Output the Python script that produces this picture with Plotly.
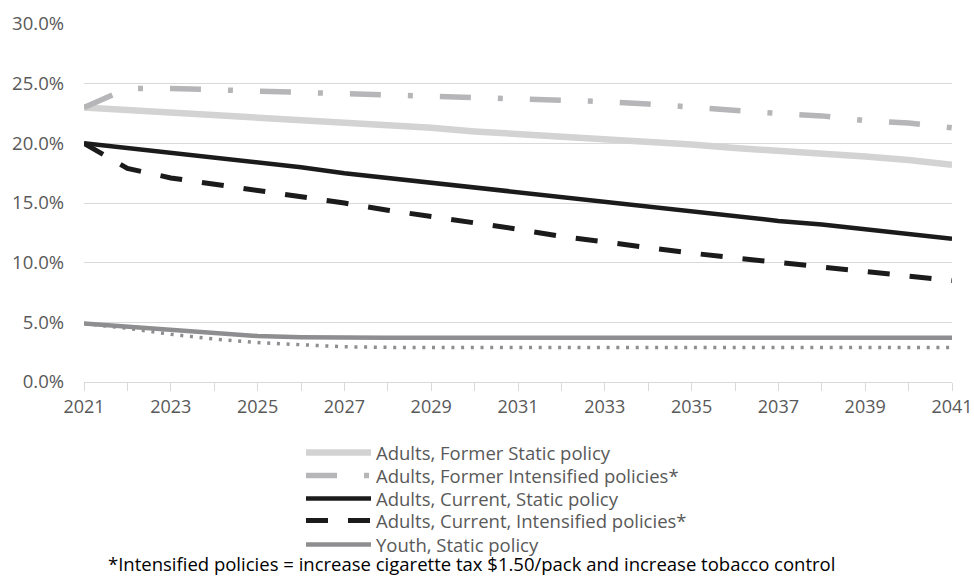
import plotly.graph_objects as go

years = list(range(2021, 2042))

adults_former_static = [23.0, 22.8, 22.6, 22.4, 22.2, 21.9, 21.7, 21.5, 21.3, 21.0, 20.8,
                        20.6, 20.3, 20.1, 19.9, 19.6, 19.4, 19.2, 18.9, 18.6, 18.2]
adults_former_intensified = [23.0, 24.6, 24.6, 24.5, 24.4, 24.3, 24.2, 24.1, 24.0, 23.9, 23.8,
                             23.6, 23.5, 23.3, 23.0, 22.8, 22.5, 22.3, 21.9, 21.7, 21.3]
adults_current_static = [20.0, 19.6, 19.2, 18.8, 18.4, 18.0, 17.5, 17.1, 16.7, 16.3, 15.9,
                         15.5, 15.1, 14.7, 14.3, 13.9, 13.5, 13.2, 12.8, 12.4, 12.0]
adults_current_intensified = [20.0, 17.9, 17.1, 16.6, 16.1, 15.5, 15.0, 14.4, 13.9, 13.3, 12.8,
                              12.2, 11.7, 11.2, 10.8, 10.4, 10.0, 9.6, 9.2, 8.9, 8.5]
youth_static = [4.9, 4.65, 4.4, 4.1, 3.85, 3.75, 3.7, 3.7, 3.7, 3.7, 3.7,
                3.7, 3.7, 3.7, 3.7, 3.7, 3.7, 3.7, 3.7, 3.7, 3.7]
youth_intensified = [4.9, 4.5, 4.0, 3.6, 3.3, 3.1, 2.95, 2.9, 2.9, 2.9, 2.9,
                     2.9, 2.9, 2.9, 2.9, 2.9, 2.9, 2.9, 2.9, 2.9, 2.9]

series_names = ["Adults, Former Static policy", "Adults, Former Intensified policies*",
                "Adults, Current, Static policy", "Adults, Current, Intensified policies*",
                "Youth, Static policy", "Youth, Intensified policies*"]

x_tick_vals = years
x_tick_text = [str(y) if (y - 2021) % 2 == 0 else "" for y in years]
y_tick_vals = [0, 5, 10, 15, 20, 25, 30]
y_tick_text = ["0.0%", "5.0%", "10.0%", "15.0%", "20.0%", "25.0%", "30.0%"]

footnote = "*Intensified policies = increase cigarette tax $1.50/pack and increase tobacco control"

FONT = "Open Sans"
GRAY_TXT = "#595959"

fig = go.Figure()
styles = [
    (adults_former_static, dict(color="#d3d3d3", width=6.5, dash="solid"), "legend"),
    (adults_former_intensified, dict(color="#b6b6b9", width=5.5, dash="31px,27px,5px,27px"), "legend2"),
    (adults_current_static, dict(color="#1b1b1b", width=4.5, dash="solid"), "legend3"),
    (adults_current_intensified, dict(color="#1b1b1b", width=5, dash="22px,20px"), "legend4"),
    (youth_static, dict(color="#8e8e90", width=4.5, dash="solid"), "legend5"),
    (youth_intensified, dict(color="#8e8e90", width=3.5, dash="3px,6.7px"), None),
]
for (vals, line, leg), name in zip(styles, series_names):
    kw = dict(legend=leg, showlegend=True) if leg else dict(showlegend=False)
    fig.add_trace(go.Scatter(x=years, y=vals, mode="lines", name=name, line=line, **kw))

legend_y_px = [453, 476, 499, 521, 545]
plot_top, plot_bottom = 24, 382
legend_common = dict(orientation="v", x=0.25, xanchor="left", yanchor="middle",
                     font=dict(size=18.5, color=GRAY_TXT, family=FONT),
                     bgcolor="rgba(0,0,0,0)", itemwidth=65)
legend_keys = ["legend", "legend2", "legend3", "legend4", "legend5"]
legend_layout = {}
for key, ypx in zip(legend_keys, legend_y_px):
    legend_layout[key] = dict(legend_common, y=(plot_bottom - ypx) / (plot_bottom - plot_top))

fig.update_layout(
    width=974, height=576,
    margin=dict(l=84, r=22, t=24, b=194),
    paper_bgcolor="white", plot_bgcolor="white",
    font=dict(family=FONT, color=GRAY_TXT, size=18),
    xaxis=dict(range=[2021, 2041], tickvals=x_tick_vals, ticktext=x_tick_text,
               ticks="outside", ticklen=8, tickcolor="#d9d9d9", showgrid=False,
               showline=True, linecolor="#d9d9d9", linewidth=1, zeroline=False,
               automargin=False, tickfont=dict(size=18, color=GRAY_TXT)),
    yaxis=dict(range=[0, 30], tickvals=y_tick_vals, ticktext=y_tick_text,
               showgrid=True, gridcolor="#d9d9d9", gridwidth=1, zeroline=False,
               showline=False, tickfont=dict(size=18.5, color=GRAY_TXT),
               ticks="", ticklabelstandoff=19, automargin=False),
    showlegend=True,
    annotations=[dict(text=footnote, xref="paper", yref="paper", x=0.4465,
                      y=(plot_bottom - 563) / (plot_bottom - plot_top),
                      xanchor="center", yanchor="middle", showarrow=False,
                      font=dict(size=18.5, color="#000000", family=FONT))],
    **legend_layout,
)

fig.write_html("out.html")
